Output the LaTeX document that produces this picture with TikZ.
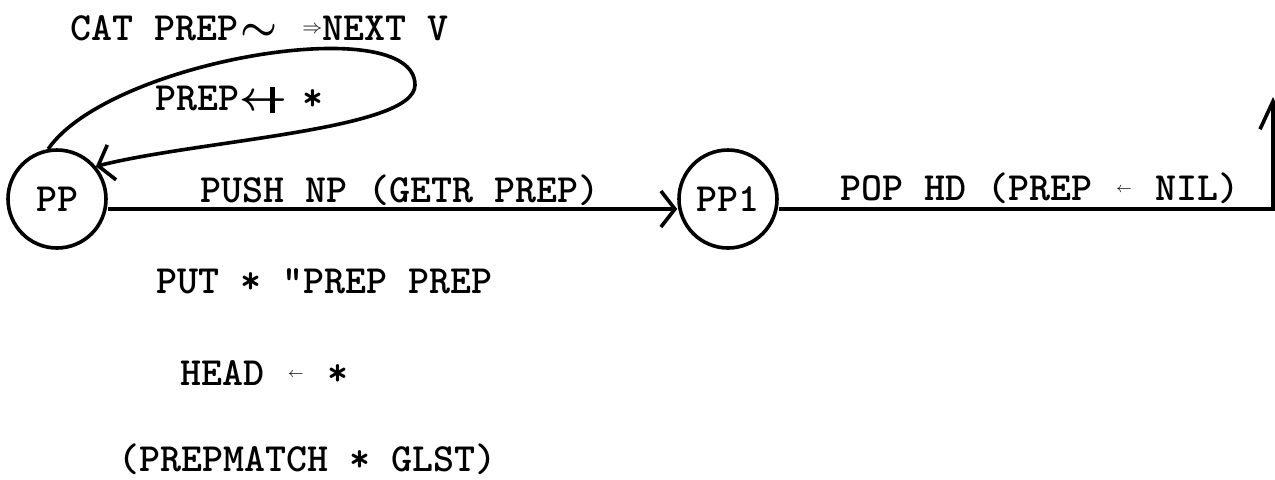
\documentclass[tikz,border=0pt]{standalone}
\usetikzlibrary{positioning}
\usetikzlibrary{arrows.meta}

% small symbols of the typed labels
\newcommand{\smallleft}{\makebox[10.5pt]{\raisebox{4pt}{\fontsize{7}{7}\selectfont$\leftarrow$}}}
\newcommand{\crossleft}{\makebox[21pt][l]{\rlap{\boldmath$\leftarrow$}\hspace{15.5pt}\rule[-1.5pt]{2.2pt}{13pt}}}
\newcommand{\squig}{\makebox[21pt]{\boldmath$\sim$}}
\newcommand{\imply}{\makebox[21pt][r]{\raisebox{3.5pt}{\fontsize{10}{10}\selectfont$\Rightarrow$}}}

\begin{document}
\begin{tikzpicture}[
	x=0.5pt,
	y=-0.5pt,
	line width=1.8pt,
	arrow/.style={-{Straight Barb[length=7pt,width=18pt]}},
	arrowup/.style={-{Straight Barb[length=14pt,width=13pt]}},
	state/.style={draw,circle,minimum size=49pt,inner sep=0pt},
	lbl/.style={anchor=base west},
	every node/.style={font=\fontsize{20}{24}\selectfont\ttfamily\bfseries},
]
\useasboundingbox (0,0) rectangle (1275,479);

% states
\node[state](pp) at (57,199) {PP};
\node[state](pp1) at (728,199) {PP1};
\coordinate (turn) at (415,85);
\coordinate (out) at (1273,97);

% arcs
\draw[arrow] (pp.100) .. controls (110,60) and (415,10) .. (turn)
	.. controls (415,130) and (200,140) .. (pp.40);
\draw[arrow] ([yshift=-5pt]pp.east) -- ([yshift=-5pt]pp1.west);
\draw[arrowup] ([yshift=-5pt]pp1.east) -| (out);

% arc labels
\node[lbl](cat) at (62,40) {CAT PREP\squig\imply NEXT V};
\node[lbl](setprep) at (147,110) {PREP\crossleft\ *};
\node[lbl](push) at (192,202) {PUSH NP (GETR PREP)};
\node[lbl](pop) at (832,200) {POP HD (PREP \smallleft\ NIL)};
\node[lbl](put) at (148,293) {PUT * "PREP PREP};
\node[lbl](head) at (172,385) {HEAD \smallleft\ *};
\node[lbl](match) at (110,471) {(PREPMATCH * GLST)};
\end{tikzpicture}
\end{document}
